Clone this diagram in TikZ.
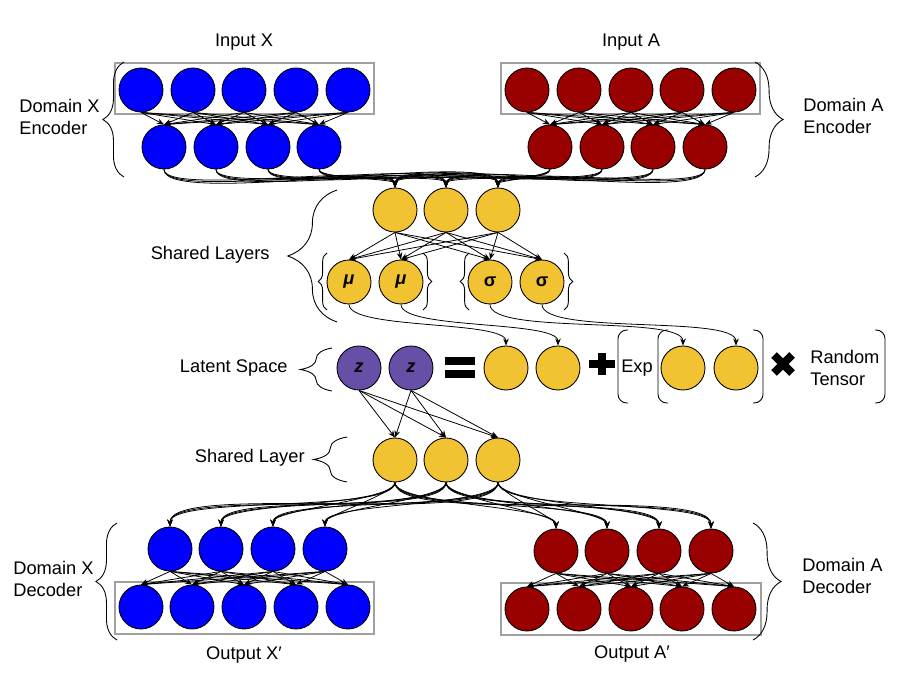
\documentclass[tikz,border=0pt]{standalone}
\usepackage{fontspec}
\setmainfont{Liberation Sans}
\usetikzlibrary{arrows.meta,decorations.pathreplacing}

\definecolor{xblue}{RGB}{0,0,255}
\definecolor{ared}{RGB}{153,0,0}
\definecolor{shyellow}{RGB}{241,194,50}
\definecolor{zpurple}{RGB}{103,78,167}
\definecolor{boxgray}{RGB}{160,160,160}

\begin{document}
\begin{tikzpicture}[x=0.02cm,y=-0.02cm,font=\fontsize{10.4}{12.4}\selectfont,
    neuron/.style={circle,draw=black,line width=0.5pt,minimum size=0.88cm,inner sep=0pt,fill=#1},
    arr/.style={-{Stealth[length=4pt,width=3.2pt]},line width=0.45pt},
    brc/.style={decorate,decoration={brace,amplitude=#1},line width=0.5pt},
    paren/.style={rounded corners=5pt,line width=0.5pt},
    inbox/.style={draw=boxgray,line width=1.1pt},
    lbl/.style={inner sep=0pt,align=left}]
    \useasboundingbox (0,0) rectangle (909,689);

    % encoders
    \draw[inbox] (115,63) rectangle (374,114);
    \draw[inbox] (501,63) rectangle (760,114);
    \foreach \i/\x in {1/141,2/193,3/244,4/296,5/348}
        \node[neuron=xblue] (ix\i) at (\x,90) {};
    \foreach \i/\x in {1/527,2/579,3/631,4/682,5/734}
        \node[neuron=ared] (ia\i) at (\x,90) {};
    \foreach \i/\x in {1/164,2/216,3/268,4/319}
        \node[neuron=xblue] (ex\i) at (\x,147) {};
    \foreach \i/\x in {1/550,2/602,3/653,4/705}
        \node[neuron=ared] (ea\i) at (\x,147) {};
    \node at (244,42) {Input X};
    \node at (631,42) {Input A};
    \node[lbl,anchor=west] (lex) at (19,117) {Domain X\\Encoder};
    \node[lbl,anchor=west] (lea) at (803,116) {Domain A\\Encoder};
    \draw[brc=12pt] (124,177) -- (124,62);
    \draw[brc=16pt] (755,62) -- (755,177);

    % shared layers
    \foreach \i/\x in {1/395,2/446,3/498}
        \node[neuron=shyellow] (sh\i) at (\x,210) {};
    \node[neuron=shyellow] (mu1) at (349,282) {\textbf{\textit{μ}}};
    \node[neuron=shyellow] (mu2) at (401,282) {\textbf{\textit{μ}}};
    \node[neuron=shyellow] (sg1) at (490,282) {\textbf{σ}};
    \node[neuron=shyellow] (sg2) at (542,282) {\textbf{σ}};
    \node[lbl,anchor=east] (lsh) at (270,255) {Shared Layers};
    \draw[brc=28pt] (337,322) -- (337,190);
    \draw[brc=5pt] (327,310) -- (327,253);
    \draw[brc=5pt] (423,253) -- (423,310);
    \draw[brc=5pt] (469,310) -- (469,253);
    \draw[brc=5pt] (564,253) -- (564,310);

    % latent space
    \node[neuron=zpurple] (z1) at (359,368) {\textbf{\textit{z}}};
    \node[neuron=zpurple] (z2) at (411,368) {\textbf{\textit{z}}};
    \node[neuron=shyellow] (lm1) at (506,368) {};
    \node[neuron=shyellow] (lm2) at (558,368) {};
    \node[neuron=shyellow] (ls1) at (683,368) {};
    \node[neuron=shyellow] (ls2) at (736,368) {};
    \node[lbl,anchor=east] (llat) at (288,368) {Latent Space};
    \draw[brc=18pt] (332,391) -- (332,348);
    \fill (445,357) rectangle (475,365);
    \fill (445,370) rectangle (475,378);
    \fill (589,360) rectangle (615,368);
    \fill (598,353) rectangle (606,375);
    \node (lexp) at (637,368) {Exp};
    \draw[paren] (628,330) -| (618,366) |- (628,403);
    \draw[paren] (668,330) -| (658,366) |- (668,403);
    \draw[paren] (753,330) -| (763,366) |- (753,403);
    \draw[line width=4.5pt] (774,355) -- (792,373) (774,373) -- (792,355);
    \node[lbl,anchor=west] (lrt) at (810,368) {Random\\Tensor};
    \draw[paren] (875,330) -| (885,366) |- (875,403);

    % decoders
    \foreach \i/\x in {1/395,2/446,3/498}
        \node[neuron=shyellow] (sd\i) at (\x,460) {};
    \node[lbl,anchor=east] (lsd) at (305,458) {Shared Layer};
    \draw[brc=19pt] (347,482) -- (347,437);
    \draw[inbox] (115,582) rectangle (374,634);
    \draw[inbox] (501,583) rectangle (761,635);
    \foreach \i/\x in {1/170,2/221,3/273,4/325}
        \node[neuron=xblue] (dx\i) at (\x,549) {};
    \foreach \i/\x in {1/556,2/607,3/659,4/711}
        \node[neuron=ared] (da\i) at (\x,551) {};
    \foreach \i/\x in {1/141,2/192,3/244,4/296,5/348}
        \node[neuron=xblue] (ox\i) at (\x,607) {};
    \foreach \i/\x in {1/527,2/579,3/631,4/682,5/734}
        \node[neuron=ared] (oa\i) at (\x,609) {};
    \node at (244,655) {Output X′};
    \node at (632,654) {Output A′};
    \node[lbl,anchor=west] (ldx) at (13,579) {Domain X\\Decoder};
    \node[lbl,anchor=west] (lda) at (802,576) {Domain A\\Decoder};
    \draw[brc=12pt] (117,640) -- (117,523);
    \draw[brc=16pt] (753,523) -- (753,640);

    % connections
    \foreach \i in {1,...,5}
        \foreach \j in {1,...,4} {
            \draw[arr] (ix\i.south) -- (ex\j.north);
            \draw[arr] (ia\i.south) -- (ea\j.north);
            \draw[arr] (dx\j.south) -- (ox\i.north);
            \draw[arr] (da\j.south) -- (oa\i.north);
        }
    \foreach \i in {1,...,4}
        \foreach \j in {1,2,3} {
            \draw[arr] (ex\i.south) to[out=-90,in=90,looseness=.3] (sh\j.north);
            \draw[arr] (ea\i.south) to[out=-90,in=90,looseness=.3] (sh\j.north);
            \draw[arr] (sd\j.south) to[out=-90,in=90,looseness=.35] (dx\i.north);
            \draw[arr] (sd\j.south) to[out=-90,in=90,looseness=.35] (da\i.north);
        }
    \foreach \j in {1,2,3} {
        \foreach \k in {mu1,mu2,sg1,sg2}
            \draw[arr] (sh\j.south) -- (\k.north);
        \draw[arr] (z1.south) -- (sd\j.north);
        \draw[arr] (z2.south) -- (sd\j.north);
    }
    \draw[arr] (mu1.south) to[out=-90,in=90,looseness=.4] (lm1.north);
    \draw[arr] (mu2.south) to[out=-90,in=90,looseness=.4] (lm2.north);
    \draw[arr] (sg1.south) to[out=-90,in=90,looseness=.4] (ls1.north);
    \draw[arr] (sg2.south) to[out=-90,in=90,looseness=.4] (ls2.north);
\end{tikzpicture}
\end{document}
